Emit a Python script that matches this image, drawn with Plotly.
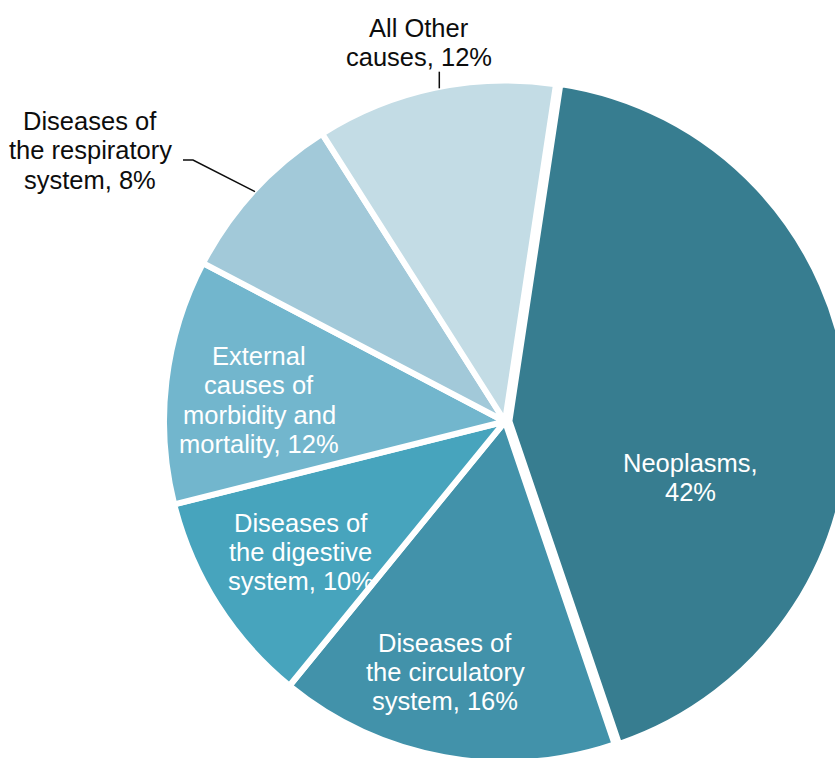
import plotly.graph_objects as go

# ---- data ----
categories = ["Neoplasms", "Diseases of the circulatory system", "Diseases of the digestive system",
              "External causes of morbidity and mortality", "Diseases of the respiratory system",
              "All Other causes"]
shares = [42.4, 16.1, 10.2, 11.6, 8.3, 11.4]
pct_labels = ["42%", "16%", "10%", "12%", "8%", "12%"]
colors = ["#377D90", "#4292AA", "#47A4BD", "#72B6CD", "#A2C9D9", "#C3DCE5"]
pulls = [0.013, 0, 0, 0, 0, 0]

# label lines as shown on the chart
label_lines = [
    ["Neoplasms,", pct_labels[0]],
    ["Diseases of", "the circulatory", "system, " + pct_labels[1]],
    ["Diseases of", "the digestive", "system, " + pct_labels[2]],
    ["External", "causes of", "morbidity and", "mortality, " + pct_labels[3]],
    ["Diseases of", "the respiratory", "system, " + pct_labels[4]],
    ["All Other", "causes, " + pct_labels[5]],
]
label_inside = [True, True, True, True, False, False]

# ---- layout geometry (pixels) ----
W, H = 860, 770
CX, CY = 505, 421.5
R = 341
FONT = "Liberation Sans, Arial, sans-serif"
FS = 25.5
LINE = 29.3

half = R * (1 + max(pulls))
dom_x = [(CX - half) / W, (CX + half) / W]
dom_y = [max(0, 1 - (CY + half) / H), 1 - (CY - half) / H]

fig = go.Figure(go.Pie(
    labels=categories,
    values=shares,
    sort=False,
    direction="clockwise",
    rotation=8.6,
    pull=pulls,
    marker=dict(colors=colors, line=dict(color="white", width=6)),
    textinfo="none",
    hoverinfo="label+percent",
    domain=dict(x=dom_x, y=dom_y),
))

# label anchors: (center x, first baseline y) in pixels
label_pos = [(690.5, 471.7), (445, 651.5), (300.5, 531.7), (259, 365), (90, 130), (419, 36.7)]

annotations = []
for lines, inside, (lx, ly) in zip(label_lines, label_inside, label_pos):
    for k, txt in enumerate(lines):
        base = ly + k * LINE
        annotations.append(dict(
            x=lx / W, y=1 - (base - 0.3465 * FS) / H, xref="paper", yref="paper",
            text=txt, showarrow=False, xanchor="center", yanchor="middle",
            font=dict(family=FONT, size=FS, color="white" if inside else "#0D0D0D"),
        ))

def px(x, y):
    return x / W, 1 - y / H

shapes = []
# leader for respiratory label
p1, p2, p3 = px(183, 160), px(193, 160), px(255, 191.7)
shapes.append(dict(type="path", xref="paper", yref="paper",
                   path=f"M {p1[0]},{p1[1]} L {p2[0]},{p2[1]} L {p3[0]},{p3[1]}",
                   line=dict(color="#0D0D0D", width=1.5)))
# leader for All Other label
q1, q2 = px(439.3, 71.7), px(439.3, 88.3)
shapes.append(dict(type="line", xref="paper", yref="paper",
                   x0=q1[0], y0=q1[1], x1=q2[0], y1=q2[1],
                   line=dict(color="#0D0D0D", width=1.5)))

fig.update_layout(
    width=W, height=H,
    margin=dict(l=0, r=0, t=0, b=0),
    showlegend=False,
    paper_bgcolor="white",
    plot_bgcolor="white",
    annotations=annotations,
    shapes=shapes,
)

fig.write_html("out.html",
               post_script="document.documentElement.style.overflow='hidden';document.body.style.overflow='hidden';")
